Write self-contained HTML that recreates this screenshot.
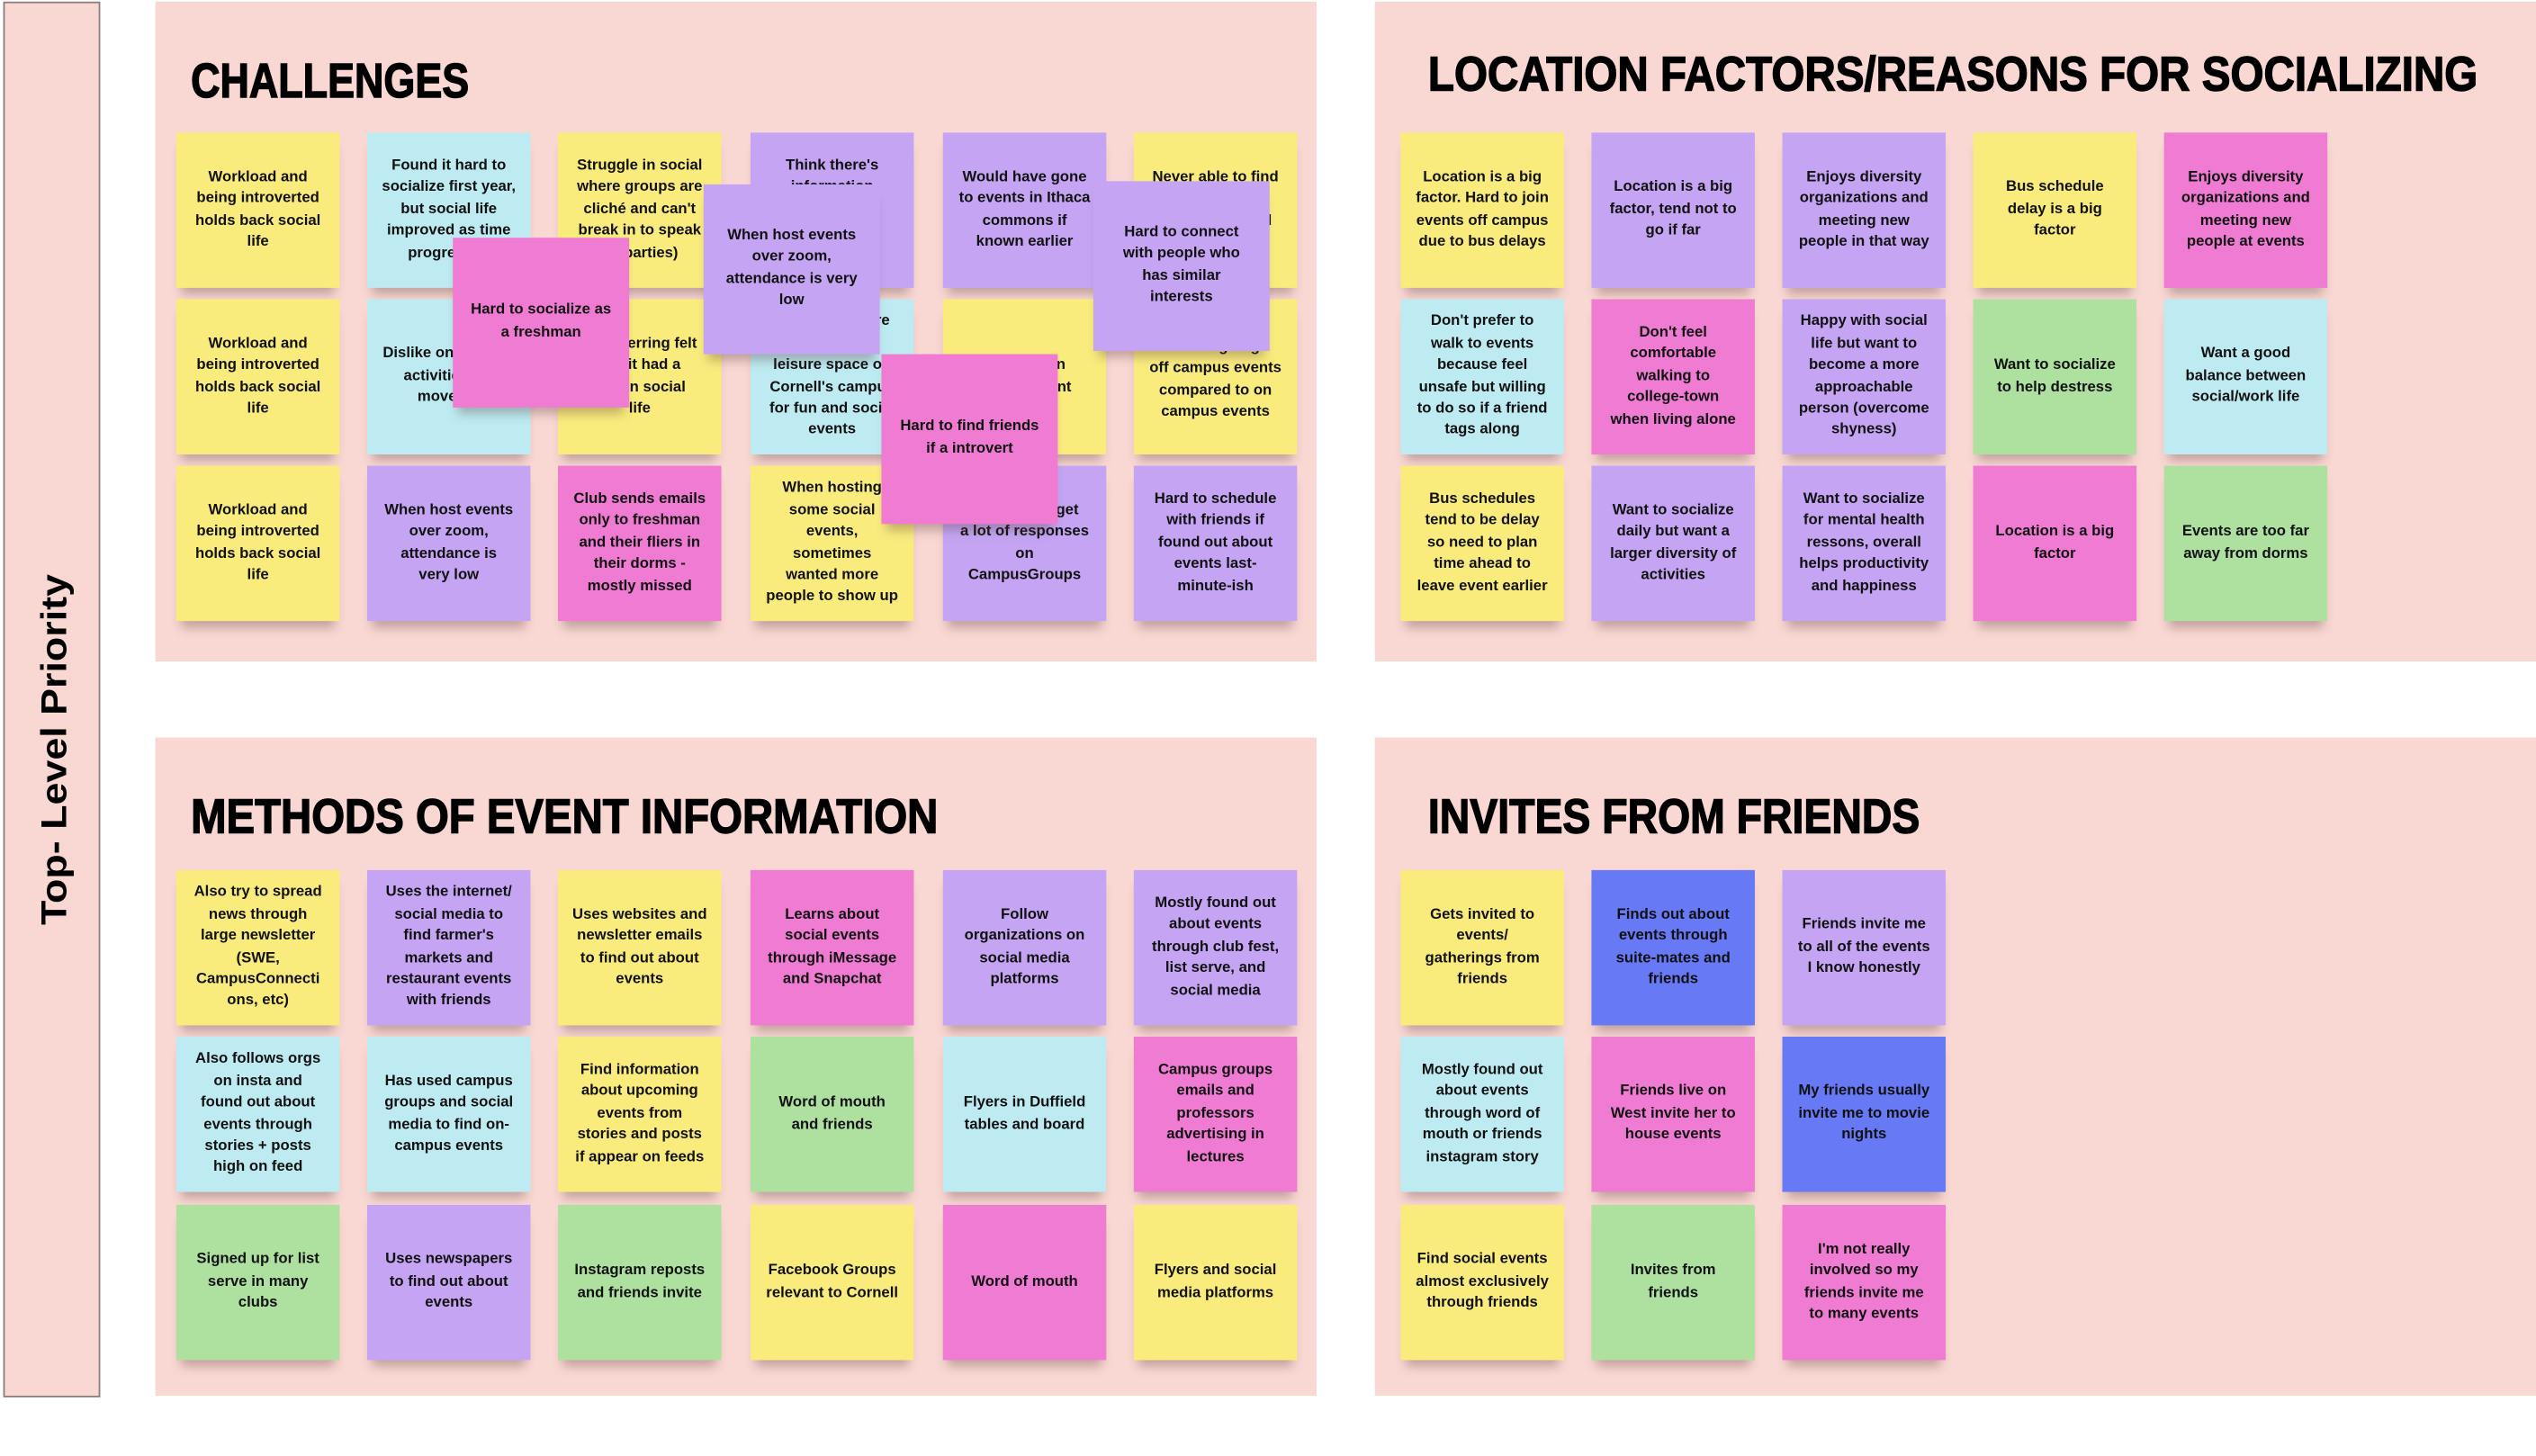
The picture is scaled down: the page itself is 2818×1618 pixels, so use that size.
<!DOCTYPE html>
<html><head><meta charset="utf-8"><style>
html,body{margin:0;padding:0;background:#fff;}
body{width:2818px;height:1618px;overflow:hidden;position:relative;}
#w{position:absolute;left:0;top:0;width:1568px;height:900px;transform:scale(1.7972);transform-origin:0 0;font-family:"Liberation Sans",sans-serif;}
.p{position:absolute;background:#f9d7d2;}
.s{position:absolute;width:101px;height:96px;display:flex;align-items:center;justify-content:center;text-align:center;font-weight:bold;font-size:9.3px;line-height:13.4px;color:#111;box-sizing:border-box;padding-bottom:1px;white-space:nowrap;box-shadow:0 7px 6px -3px rgba(90,60,60,0.35);overflow:hidden;}
.o{width:109px;height:105px;padding-bottom:2px;}
.y{background:#f9ec7d}.c{background:#bdebf1}.u{background:#c5a5f3}.k{background:#ef7bd3}.g{background:#aee0a0}.b{background:#6879f5}
</style></head><body><div id="w">
<div class="p" style="left:2px;top:1px;width:58px;height:861px;border:1px solid #8a7e7e;"></div>
<svg style="position:absolute;left:0;top:0" width="1568" height="900">
<text transform="translate(41,572) rotate(-90)" font-family="Liberation Sans" font-weight="bold" font-size="22" textLength="217" lengthAdjust="spacingAndGlyphs">Top- Level Priority</text>
</svg>
<div class="p" style="left:96px;top:1px;width:718px;height:408px"></div>
<div class="p" style="left:850px;top:1px;width:718px;height:408px"></div>
<div class="p" style="left:96px;top:456px;width:718px;height:407px"></div>
<div class="p" style="left:850px;top:456px;width:718px;height:407px"></div>
<svg style="position:absolute;left:0;top:0" width="1568" height="900" font-family="Liberation Sans" font-weight="bold" font-size="30" stroke="#000" stroke-width="0.8">
<text x="118" y="60" textLength="172" lengthAdjust="spacingAndGlyphs">CHALLENGES</text>
<text x="883" y="56" textLength="649" lengthAdjust="spacingAndGlyphs">LOCATION FACTORS/REASONS FOR SOCIALIZING</text>
<text x="118" y="515" textLength="462" lengthAdjust="spacingAndGlyphs">METHODS OF EVENT INFORMATION</text>
<text x="883" y="515" textLength="304" lengthAdjust="spacingAndGlyphs">INVITES FROM FRIENDS</text>
</svg>

<!-- CHALLENGES -->
<div class="s y" style="left:109px;top:82px">Workload and<br>being introverted<br>holds back social<br>life</div>
<div class="s c" style="left:227px;top:82px">Found it hard to<br>socialize first year,<br>but social life<br>improved as time<br>progressed</div>
<div class="s y" style="left:345px;top:82px">Struggle in social<br>where groups are<br>cliché and can't<br>break in to speak<br>(at parties)</div>
<div class="s u" style="left:464px;top:82px">Think there's<br>information<br>lacking on<br>events and<br>socials</div>
<div class="s u" style="left:583px;top:82px">Would have gone<br>to events in Ithaca<br>commons if<br>known earlier</div>
<div class="s y" style="left:701px;top:82px">Never able to find<br>a good space<br>to hang out and<br>socialize</div>

<div class="s y" style="left:109px;top:185px">Workload and<br>being introverted<br>holds back social<br>life</div>
<div class="s c" style="left:227px;top:185px">Dislike on campus<br>activities, so<br>move off</div>
<div class="s y" style="left:345px;top:185px">Transferring felt<br>like it had a<br>toll on social<br>life</div>
<div class="s c" style="left:464px;top:185px">Wish there were<br>more free<br>leisure space on<br>Cornell's campus<br>for fun and social<br>events</div>
<div class="s y" style="left:583px;top:185px">Difficulty in<br>finding event</div>
<div class="s y" style="left:701px;top:185px;padding-top:4px">Prefer going<br>off campus events<br>compared to on<br>campus events</div>

<div class="s y" style="left:109px;top:288px">Workload and<br>being introverted<br>holds back social<br>life</div>
<div class="s u" style="left:227px;top:288px">When host events<br>over zoom,<br>attendance is<br>very low</div>
<div class="s k" style="left:345px;top:288px">Club sends emails<br>only to freshman<br>and their fliers in<br>their dorms -<br>mostly missed</div>
<div class="s y" style="left:464px;top:288px">When hosting<br>some social<br>events,<br>sometimes<br>wanted more<br>people to show up</div>
<div class="s u" style="left:583px;top:288px">Don't really get<br>a lot of responses<br>on<br>CampusGroups</div>
<div class="s u" style="left:701px;top:288px">Hard to schedule<br>with friends if<br>found out about<br>events last-<br>minute-ish</div>

<div class="s k o" style="left:280px;top:147px">Hard to socialize as<br>a freshman</div>
<div class="s u o" style="left:435px;top:114px">When host events<br>over zoom,<br>attendance is very<br>low</div>
<div class="s k o" style="left:545px;top:219px">Hard to find friends<br>if a introvert</div>
<div class="s u o" style="left:676px;top:112px">Hard to connect<br>with people who<br>has similar<br>interests</div>

<!-- LOCATION -->
<div class="s y" style="left:866px;top:82px">Location is a big<br>factor. Hard to join<br>events off campus<br>due to bus delays</div>
<div class="s u" style="left:984px;top:82px">Location is a big<br>factor, tend not to<br>go if far</div>
<div class="s u" style="left:1102px;top:82px">Enjoys diversity<br>organizations and<br>meeting new<br>people in that way</div>
<div class="s y" style="left:1220px;top:82px">Bus schedule<br>delay is a big<br>factor</div>
<div class="s k" style="left:1338px;top:82px">Enjoys diversity<br>organizations and<br>meeting new<br>people at events</div>

<div class="s c" style="left:866px;top:185px">Don't prefer to<br>walk to events<br>because feel<br>unsafe but willing<br>to do so if a friend<br>tags along</div>
<div class="s k" style="left:984px;top:185px">Don't feel<br>comfortable<br>walking to<br>college-town<br>when living alone</div>
<div class="s u" style="left:1102px;top:185px">Happy with social<br>life but want to<br>become a more<br>approachable<br>person (overcome<br>shyness)</div>
<div class="s g" style="left:1220px;top:185px">Want to socialize<br>to help destress</div>
<div class="s c" style="left:1338px;top:185px">Want a good<br>balance between<br>social/work life</div>

<div class="s y" style="left:866px;top:288px">Bus schedules<br>tend to be delay<br>so need to plan<br>time ahead to<br>leave event earlier</div>
<div class="s u" style="left:984px;top:288px">Want to socialize<br>daily but want a<br>larger diversity of<br>activities</div>
<div class="s u" style="left:1102px;top:288px">Want to socialize<br>for mental health<br>ressons, overall<br>helps productivity<br>and happiness</div>
<div class="s k" style="left:1220px;top:288px">Location is a big<br>factor</div>
<div class="s g" style="left:1338px;top:288px">Events are too far<br>away from dorms</div>

<!-- METHODS -->
<div class="s y" style="left:109px;top:538px">Also try to spread<br>news through<br>large newsletter<br>(SWE,<br>CampusConnecti<br>ons, etc)</div>
<div class="s u" style="left:227px;top:538px">Uses the internet/<br>social media to<br>find farmer's<br>markets and<br>restaurant events<br>with friends</div>
<div class="s y" style="left:345px;top:538px">Uses websites and<br>newsletter emails<br>to find out about<br>events</div>
<div class="s k" style="left:464px;top:538px">Learns about<br>social events<br>through iMessage<br>and Snapchat</div>
<div class="s u" style="left:583px;top:538px">Follow<br>organizations on<br>social media<br>platforms</div>
<div class="s u" style="left:701px;top:538px">Mostly found out<br>about events<br>through club fest,<br>list serve, and<br>social media</div>

<div class="s c" style="left:109px;top:641px">Also follows orgs<br>on insta and<br>found out about<br>events through<br>stories + posts<br>high on feed</div>
<div class="s c" style="left:227px;top:641px">Has used campus<br>groups and social<br>media to find on-<br>campus events</div>
<div class="s y" style="left:345px;top:641px">Find information<br>about upcoming<br>events from<br>stories and posts<br>if appear on feeds</div>
<div class="s g" style="left:464px;top:641px">Word of mouth<br>and friends</div>
<div class="s c" style="left:583px;top:641px">Flyers in Duffield<br>tables and board</div>
<div class="s k" style="left:701px;top:641px">Campus groups<br>emails and<br>professors<br>advertising in<br>lectures</div>

<div class="s g" style="left:109px;top:745px">Signed up for list<br>serve in many<br>clubs</div>
<div class="s u" style="left:227px;top:745px">Uses newspapers<br>to find out about<br>events</div>
<div class="s g" style="left:345px;top:745px">Instagram reposts<br>and friends invite</div>
<div class="s y" style="left:464px;top:745px">Facebook Groups<br>relevant to Cornell</div>
<div class="s k" style="left:583px;top:745px">Word of mouth</div>
<div class="s y" style="left:701px;top:745px">Flyers and social<br>media platforms</div>

<!-- INVITES -->
<div class="s y" style="left:866px;top:538px">Gets invited to<br>events/<br>gatherings from<br>friends</div>
<div class="s b" style="left:984px;top:538px">Finds out about<br>events through<br>suite-mates and<br>friends</div>
<div class="s u" style="left:1102px;top:538px">Friends invite me<br>to all of the events<br>I know honestly</div>

<div class="s c" style="left:866px;top:641px">Mostly found out<br>about events<br>through word of<br>mouth or friends<br>instagram story</div>
<div class="s k" style="left:984px;top:641px">Friends live on<br>West invite her to<br>house events</div>
<div class="s b" style="left:1102px;top:641px">My friends usually<br>invite me to movie<br>nights</div>

<div class="s y" style="left:866px;top:745px">Find social events<br>almost exclusively<br>through friends</div>
<div class="s g" style="left:984px;top:745px">Invites from<br>friends</div>
<div class="s k" style="left:1102px;top:745px">I'm not really<br>involved so my<br>friends invite me<br>to many events</div>
</div></body></html>
